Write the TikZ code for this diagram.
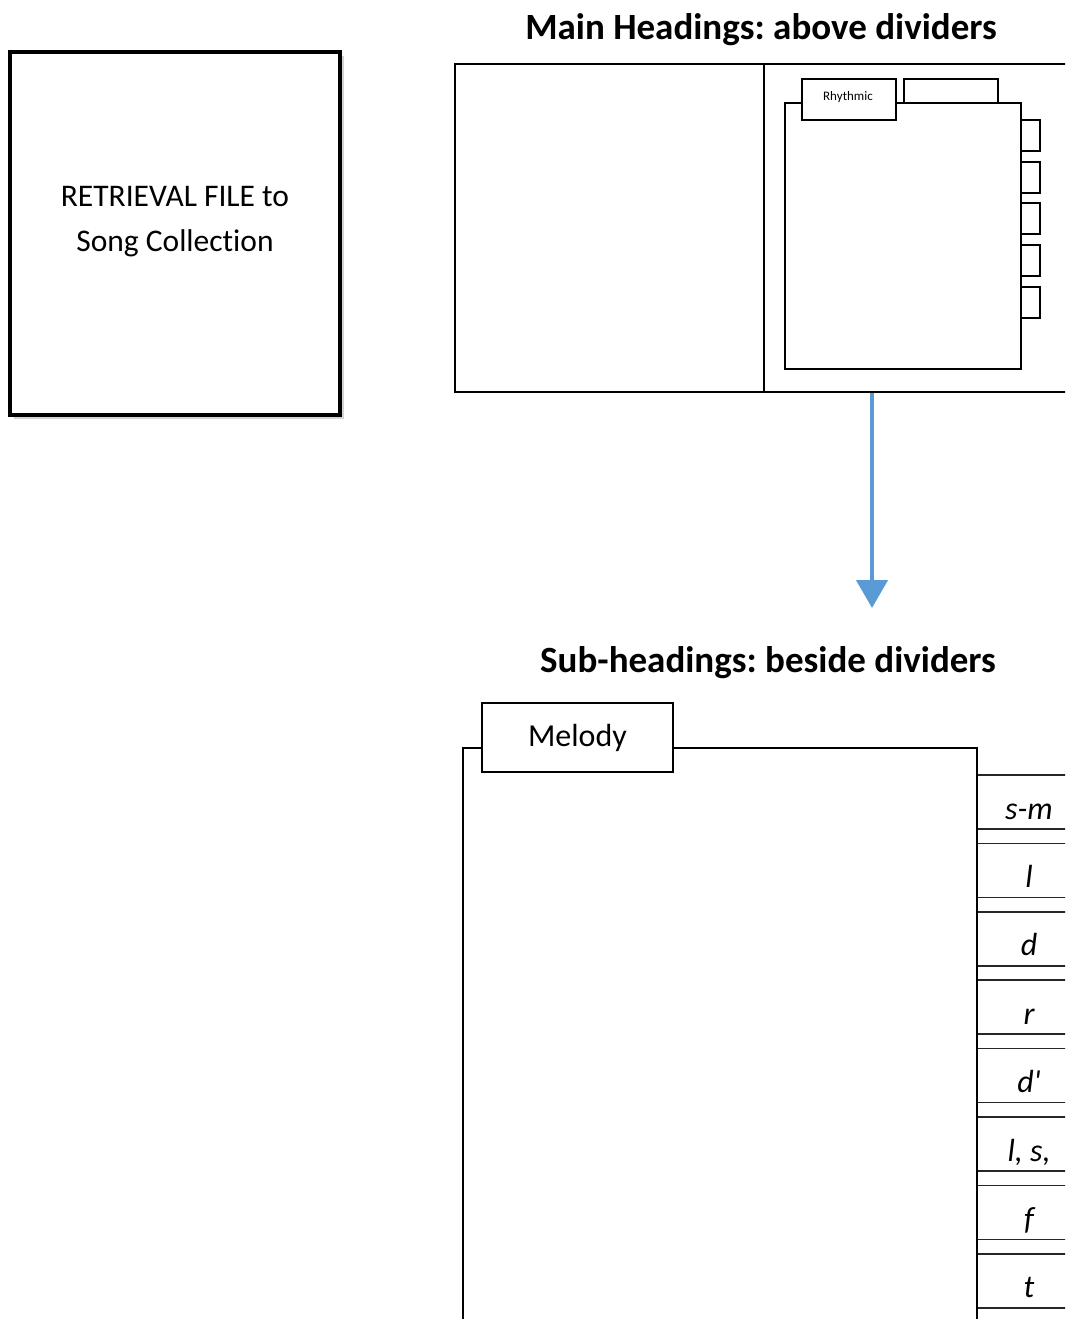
\documentclass[tikz,border=0pt]{standalone}
\usepackage{fontspec}
\setmainfont{Carlito}[Ligatures={NoCommon}]
\usetikzlibrary{arrows.meta,shadows}
\definecolor{arrowblue}{HTML}{5B9BD5}
\frenchspacing
\begin{document}
\begin{tikzpicture}[x=1pt,y=-1pt,
  box/.style={draw, line width=2.4pt, fill=white, inner sep=0pt, outer sep=0pt, anchor=north west},
  sidetab/.style={draw=black!85, line width=1.6pt, fill=white, inner sep=0pt, outer sep=0pt, anchor=north west, minimum width=110pt, minimum height=54pt},
  notelabel/.style={font=\itshape\fontsize{32}{36}\selectfont, anchor=base, inner sep=0pt},
  headline/.style={font=\bfseries\fontsize{37}{44}\selectfont, inner sep=0pt}
]
\useasboundingbox (0,0) rectangle (1065,1319);
\clip (0,0) rectangle (1065,1319);

% Left box
\node[box, line width=4.2pt, minimum width=330pt, minimum height=363pt,
      drop shadow={shadow xshift=4pt, shadow yshift=-4pt, opacity=0.35}] (retr) at (10,52) {};
\node[align=center, font=\fontsize{31.5}{45}\selectfont, inner sep=0pt] (retrtext) at (175,222) {RETRIEVAL FILE to\\Song Collection};

% Top heading
\node[headline] (title1) at (761,30) {Main Headings: above dividers};

% Top file box
\node[box, line width=2.4pt, minimum width=650pt, minimum height=328pt] (mainbox) at (455,64) {};
\draw[line width=2.4pt] (764,64) -- (764,392);

% second top tab (behind)
\node[box, minimum width=94pt, minimum height=30pt] (toptab2) at (904,79) {};
% right small tabs
\foreach \i/\yy in {1/120,2/162,3/203,4/245,5/287}{
  \node[box, minimum width=24pt, minimum height=31pt] (rtab\i) at (1016,\yy) {};
}
% inner divider card
\node[box, minimum width=236pt, minimum height=266pt] (card) at (785,103) {};
% Rhythmic tab
\node[box, minimum width=94pt, minimum height=41pt] (rhytab) at (802,79) {};
\node[font=\fontsize{13}{15}\selectfont, inner sep=0pt] (rhytext) at (848,97) {Rhythmic};

% Arrow
\coordinate (arrtop) at (872,393);
\coordinate (arrtip) at (872,608);
\draw[arrowblue, line width=4.5pt, -{Triangle[width=31pt,length=28pt]}] (arrtop) -- (arrtip);

% Bottom heading
\node[headline] (title2) at (768,663) {Sub-headings: beside dividers};

% Side tabs
\foreach \i/\lab in {0/{s-m},1/{l},2/{d},3/{r},4/{d\textquotesingle},5/{l, s,},6/{f},7/{t}}{
  \pgfmathsetmacro{\tt}{775+68.4*\i}
  \node[sidetab] (stab\i) at (977,\tt) {};
  \node[notelabel] (slab\i) at (1029,\tt+44) {\lab};
}

% Bottom main card
\node[draw, line width=2.4pt, inner sep=0pt, outer sep=0pt, anchor=north west, minimum width=514pt, minimum height=620pt] (melbox) at (463,748) {};
% Melody tab
\node[box, minimum width=191pt, minimum height=69pt, font=\fontsize{32}{36}\selectfont] (meltab) at (482,703) {Melody};
\end{tikzpicture}
\end{document}
